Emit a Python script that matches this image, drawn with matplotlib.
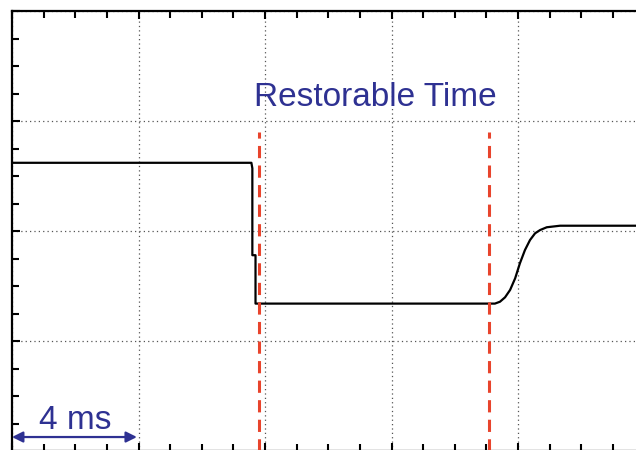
import matplotlib
matplotlib.use("Agg")
import matplotlib.pyplot as plt
from matplotlib.ticker import MultipleLocator

# signal trace, time in ms, level in screen divisions
t_ms = [0, 7.57, 7.60, 7.60, 7.70, 7.70, 15.27, 15.43, 15.59, 15.75, 15.91,
        16.06, 16.22, 16.38, 16.54, 16.70, 16.91, 17.33, 19.8]
level = [2.62, 2.62, 2.57, 1.78, 1.78, 1.34, 1.34, 1.357, 1.397, 1.464, 1.57,
         1.706, 1.827, 1.918, 1.979, 2.009, 2.034, 2.048, 2.048]

# restorable time window markers
marker_t = [7.81, 15.08]
marker_top = 2.9

div_ms = 4  # one horizontal division
blue = "#2e3192"

plt.rcParams["font.family"] = ["Liberation Sans", "DejaVu Sans"]

fig = plt.figure(figsize=(6.36, 4.5), dpi=100)
ax = fig.add_axes([12 / 636, -1 / 450, 632.5 / 636, 440 / 450])

ax.set_xlim(0, 20)
ax.set_ylim(0, 4)

# graticule
ax.xaxis.set_major_locator(MultipleLocator(div_ms))
ax.xaxis.set_minor_locator(MultipleLocator(div_ms / 4))
ax.yaxis.set_major_locator(MultipleLocator(1))
ax.yaxis.set_minor_locator(MultipleLocator(0.25))
ax.grid(True, which="major", linestyle=(0, (1, 2.5)), color="#555555", linewidth=0.9)
ax.tick_params(which="both", direction="in", top=True, bottom=True, left=True,
               right=False, labelbottom=False, labelleft=False,
               width=1.5, color="black")
ax.tick_params(which="major", length=6)
ax.tick_params(which="minor", length=5)
for s in ax.spines.values():
    s.set_linewidth(1.6)

ax.plot(t_ms, level, color="black", linewidth=1.6, zorder=3)

for x in marker_t:
    ax.plot([x, x], [0, marker_top], color="#e8442c", linewidth=2.2,
            dashes=(4, 2.4), zorder=4)

ax.text(11.48, 3.136, "Restorable Time", color=blue, fontsize=24,
        ha="center", va="baseline")

ax.annotate("", xy=(0, 0.127), xytext=(div_ms - 0.05, 0.127),
            arrowprops=dict(arrowstyle="<|-|>", color=blue, lw=1.6,
                            mutation_scale=16, shrinkA=0, shrinkB=0))
ax.text(1.99, 0.2, "4 ms", color=blue, fontsize=24, ha="center", va="baseline")

fig.savefig("out.png", dpi=100)
